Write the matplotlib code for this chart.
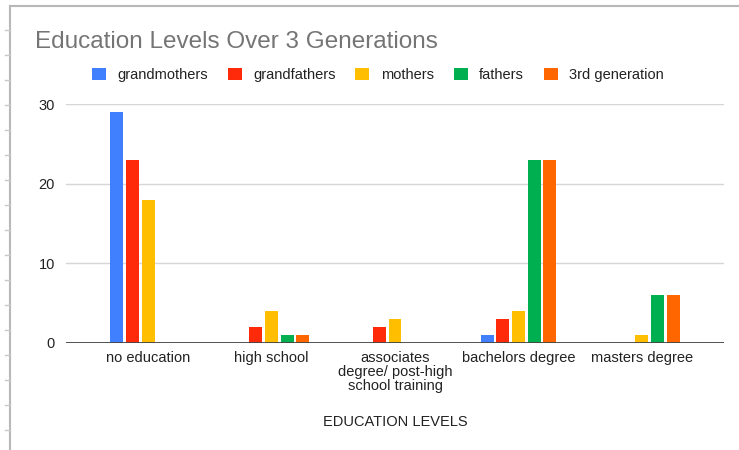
import numpy as np
import matplotlib
matplotlib.use('Agg')
import matplotlib.pyplot as plt
from matplotlib.lines import Line2D
from matplotlib.patches import Patch

plt.rcParams['font.family'] = ['Liberation Sans', 'DejaVu Sans']

categories = ['no education', 'high school',
              'associates\ndegree/ post-high\nschool training',
              'bachelors degree', 'masters degree']
series_names = ['grandmothers', 'grandfathers', 'mothers', 'fathers', '3rd generation']
grandmothers = [29, 0, 0, 1, 0]
grandfathers = [23, 2, 2, 3, 0]
mothers = [18, 4, 3, 4, 1]
fathers = [0, 1, 0, 23, 6]
third_gen = [0, 1, 0, 23, 6]
colors = ['#4080ff', '#ff2a0a', '#ffbf00', '#00b050', '#ff6600']

W, H = 739, 450
fig = plt.figure(figsize=(W / 100, H / 100), dpi=100)
ax = fig.add_axes([66 / W, 1 - 343 / H, (724 - 66) / W, (343 - 104) / H])

x = np.arange(len(categories))
step = 0.127
width = 0.105
for i, (name, vals) in enumerate(zip(series_names,
                                     [grandmothers, grandfathers, mothers, fathers, third_gen])):
    ax.bar(x + (i - 2) * step, vals, width=width, color=colors[i], label=name, zorder=3)

ax.set_xlim(-0.667, 4.667)
ax.set_ylim(0, 30)
ax.set_yticks([0, 10, 20, 30])
ax.yaxis.grid(True, color='#d6d6d6', linewidth=1.0, zorder=0)
ax.axhline(0, color='#444444', linewidth=1.3, zorder=4)
for s in ax.spines.values():
    s.set_visible(False)
ax.tick_params(axis='both', length=0, labelsize=10.5, colors='#222222')
ax.tick_params(axis='y', pad=8)
ax.tick_params(axis='x', pad=6)
ax.set_xticks(x)
ax.set_xticklabels(categories, linespacing=0.98)
ax.set_xlabel('EDUCATION LEVELS', fontsize=10.5, color='#222222', labelpad=16)

fig.text(35 / W, 1 - 42 / H, 'Education Levels Over 3 Generations',
         fontsize=17.5, color='#757575', va='center', ha='left')

handles = [Patch(facecolor=c, edgecolor='none') for c in colors]
fig.legend(handles, series_names, loc='center', bbox_to_anchor=(378 / W, 1 - 75 / H),
           ncol=5, frameon=False, fontsize=10.5, handlelength=0.95, handleheight=0.95,
           handletextpad=0.8, columnspacing=1.35, labelcolor='#222222')

# sheet frame on the top and left edges
fig.add_artist(Line2D([10 / W, 1], [1 - 6 / H, 1 - 6 / H], color='#b8b8b8', lw=1.5))
fig.add_artist(Line2D([10 / W, 10 / W], [0, 1 - 6 / H], color='#b8b8b8', lw=1.5))
for yy in range(30, 450, 25):
    fig.add_artist(Line2D([5 / W, 10 / W], [1 - yy / H, 1 - yy / H], color='#c8c8c8', lw=1))

fig.savefig('out.png', dpi=100)
